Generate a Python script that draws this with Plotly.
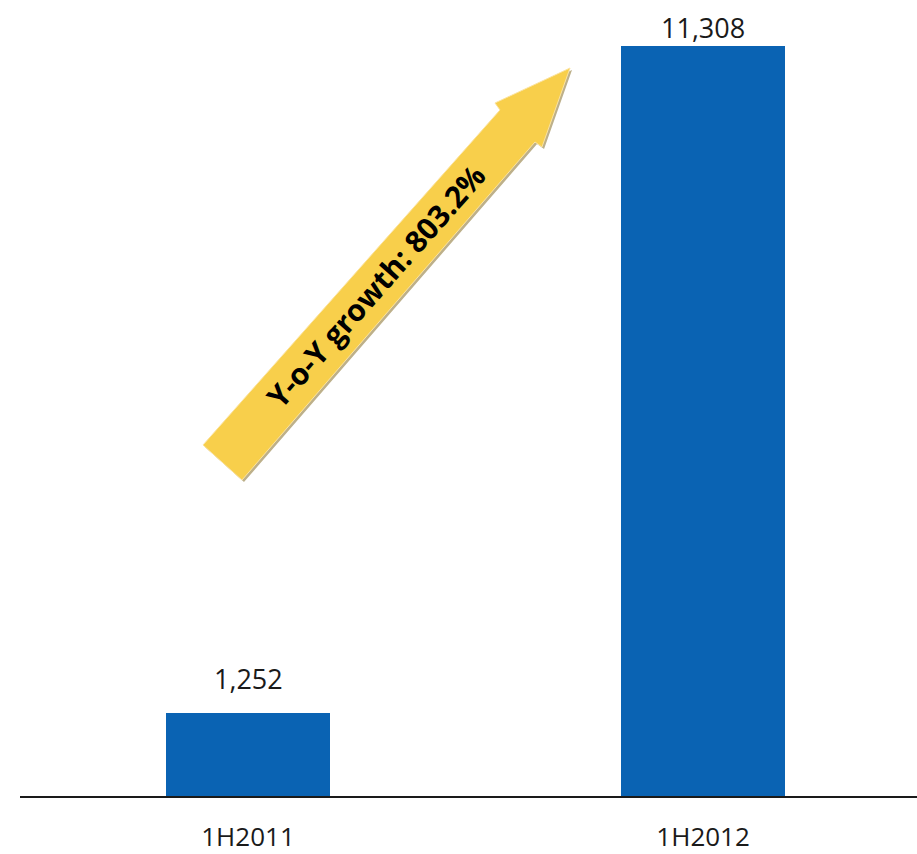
import plotly.graph_objects as go

# Half-year totals
periods = ["1H2011", "1H2012"]
totals = [1252, 11308]
growth_label = "Y-o-Y growth: 803.2%"

BAR_BLUE = "#0A63B3"
ARROW_YELLOW = "#F8CF4B"
FONT = "Open Sans, Noto Sans, DejaVu Sans, sans-serif"

W, H = 917, 854
ML, MR, MT, MB = 20, 0, 10, 58
PW, PH = W - ML - MR, H - MT - MB
Y_TOP = 11851  # value at the top edge of the plot area
LABEL_LIFT = [14, -2]  # px gap above each bar (the tall bar's label sits tight to the top)


def to_paper(px, py):
    """Convert page pixel positions to paper coordinates of the plot area."""
    return (px - ML) / PW, (H - MB - py) / PH


def path_from(points):
    pts = [to_paper(x, y) for x, y in points]
    return "M " + " L ".join(f"{x:.4f},{y:.4f}" for x, y in pts) + " Z"


# Growth arrow outline (tail -> head), in page pixels
arrow_pts = [
    (203, 445), (500, 110), (495, 103), (570, 68),
    (542, 147), (535, 142), (242, 480),
]
shadow_pts = [(x + 2, y + 2) for x, y in arrow_pts]

fig = go.Figure()
fig.add_trace(go.Bar(
    x=periods,
    y=totals,
    marker=dict(color=BAR_BLUE, line=dict(width=0)),
    width=0.36,
    hoverinfo="skip",
))

# value labels above each bar
for p, v, lift in zip(periods, totals, LABEL_LIFT):
    fig.add_annotation(
        x=p, y=v, text=f"{v:,}", showarrow=False,
        xanchor="center", yanchor="bottom", yshift=lift,
        font=dict(family=FONT, size=27, color="#1a1a1a"),
    )

fig.add_shape(type="path", xref="paper", yref="paper", path=path_from(shadow_pts),
              fillcolor="#BDB08A", line=dict(width=0), layer="above")
fig.add_shape(type="path", xref="paper", yref="paper", path=path_from(arrow_pts),
              fillcolor=ARROW_YELLOW, line=dict(color="#FBE3A0", width=1), layer="above")

cx, cy = to_paper(375, 286)
fig.add_annotation(
    x=cx, y=cy, xref="paper", yref="paper", text=f"<b>{growth_label}</b>",
    showarrow=False, textangle=-48.5, xanchor="center", yanchor="middle",
    font=dict(family=FONT, size=30, color="#000000"),
)

fig.update_layout(
    width=W, height=H,
    margin=dict(l=ML, r=MR, t=MT, b=MB, autoexpand=False),
    paper_bgcolor="white", plot_bgcolor="white",
    showlegend=False,
    bargap=0,
    xaxis=dict(
        range=[-0.501, 1.470],
        automargin=False,
        showline=True, linecolor="#1a1a1a", linewidth=2,
        showgrid=False, zeroline=False,
        ticks="", ticklabelstandoff=17,
        tickfont=dict(family=FONT, size=26, color="#1a1a1a"),
    ),
    yaxis=dict(range=[0, Y_TOP], visible=False, showgrid=False, zeroline=False,
               automargin=False),
)

fig.write_html("out.html")
